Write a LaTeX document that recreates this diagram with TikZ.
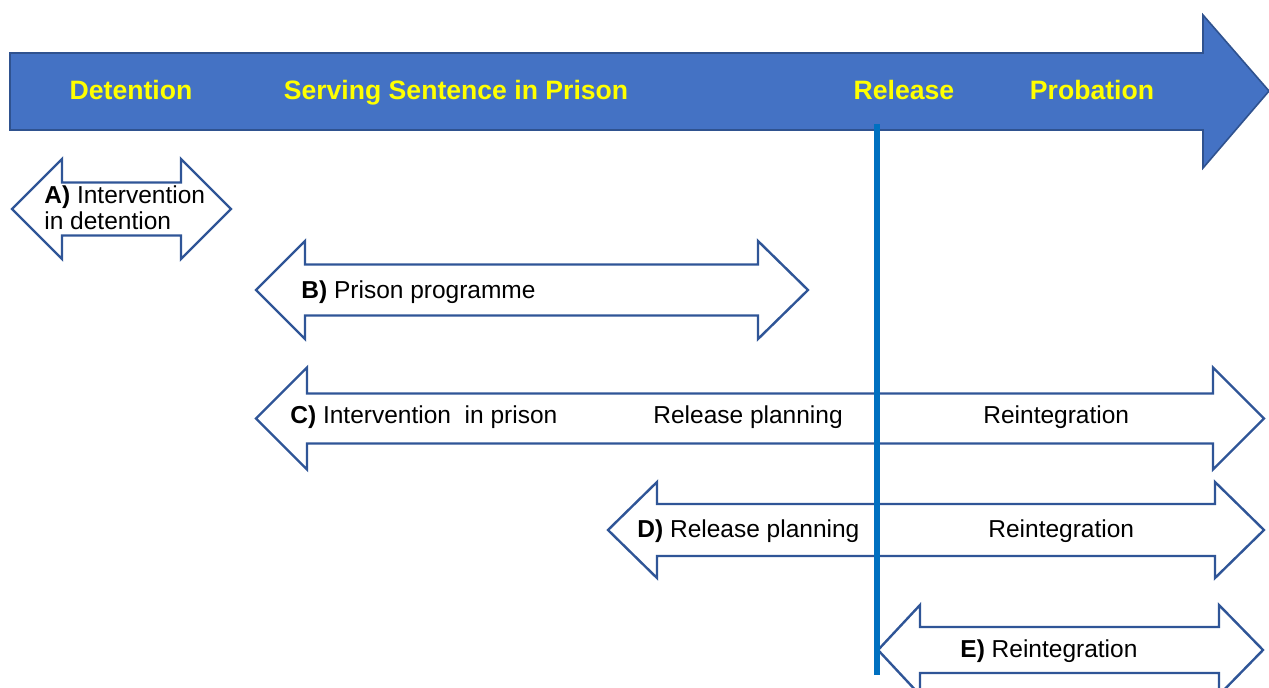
\documentclass[tikz,border=0pt]{standalone}
\usepackage{fontspec}
\setmainfont{Liberation Sans}
\definecolor{bigfill}{HTML}{4472C4}
\definecolor{bigline}{HTML}{2F528F}
\definecolor{arrline}{HTML}{2F5597}
\definecolor{relline}{HTML}{0070C0}
\definecolor{phase}{HTML}{FFFF00}
\tikzset{
  bigarrow/.style={fill=bigfill, draw=bigline, line width=0.8pt, line join=miter},
  dblarrow/.style={fill=white, draw=arrline, line width=1.2pt, line join=miter},
  phaselabel/.style={text=phase, font=\fontsize{13.3}{16}\selectfont\bfseries, inner sep=0pt, anchor=base},
  arrlabel/.style={text=black, font=\fontsize{12.25}{14.5}\selectfont, inner sep=0pt, anchor=base west},
  releaseline/.style={draw=relline, line width=3pt},
}
% #1 left tip x, #2 left head back x, #3 right head back x, #4 right tip x, #5 centre y, #6 head half height, #7 shaft half height
\newcommand\dblarrowshape[7]{%
  \draw[dblarrow] (#1,#5) -- (#2,#5-#6) -- (#2,#5-#7) -- (#3,#5-#7) -- (#3,#5-#6)
    -- (#4,#5) -- (#3,#5+#6) -- (#3,#5+#7) -- (#2,#5+#7) -- (#2,#5+#6) -- cycle;}
\begin{document}
\begin{tikzpicture}[x=0.5pt,y=-0.5pt]
\useasboundingbox (0,0) rectangle (1269,687);
\clip (0,0) rectangle (1269,687);
% timeline arrow
\draw[bigarrow] (10,53) -- (1203,53) -- (1203,15) -- (1269,91) -- (1203,168) -- (1203,130) -- (10,130) -- cycle;
\node[phaselabel] (detention) at (131,99) {Detention};
\node[phaselabel] (serving) at (456,99) {Serving Sentence in Prison};
\node[phaselabel] (release) at (904,99) {Release};
\node[phaselabel] (probation) at (1092,99) {Probation};
% double arrows
\dblarrowshape{12}{62}{181}{231}{209}{50}{26.5}
\dblarrowshape{256}{305}{758}{808}{290}{49}{25.5}
\dblarrowshape{256}{307}{1213}{1264}{418.5}{51}{25}
\dblarrowshape{608}{657}{1215}{1264}{530}{48}{26}
\dblarrowshape{878}{920}{1219}{1263}{650}{45}{23}
% labels
\node[arrlabel] (a1) at (44,203) {\textbf{A)} Intervention};
\node[arrlabel] (a2) at (44,229) {in detention};
\node[arrlabel] (b) at (301,298) {\textbf{B)} Prison programme};
\node[arrlabel] (c1) at (290,423) {\textbf{C)} Intervention\ \ in prison};
\node[arrlabel] (c2) at (653,423) {Release planning};
\node[arrlabel] (c3) at (983,423) {Reintegration};
\node[arrlabel] (d1) at (637,537) {\textbf{D)} Release planning};
\node[arrlabel] (d2) at (988,537) {Reintegration};
\node[arrlabel] (e) at (960,657) {\textbf{E)} Reintegration};
% release line
\coordinate (rtop) at (877,124);
\coordinate (rbot) at (877,675);
\draw[releaseline] (rtop) -- (rbot);
\end{tikzpicture}
\end{document}
